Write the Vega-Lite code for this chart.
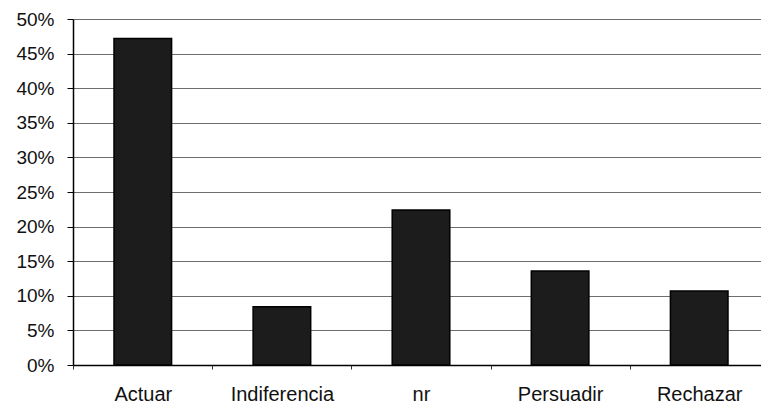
{
  "$schema": "https://vega.github.io/schema/vega-lite/v6.json",
  "width": 688,
  "height": 346,
  "autosize": "none",
  "padding": {"left": 73, "top": 19, "right": 0, "bottom": 39},
  "background": "white",
  "config": {
    "view": {"stroke": null},
    "font": "Liberation Sans"
  },
  "data": {
    "values": [
      {"categoria": "Actuar", "porcentaje": 0.472},
      {"categoria": "Indiferencia", "porcentaje": 0.084},
      {"categoria": "nr", "porcentaje": 0.224},
      {"categoria": "Persuadir", "porcentaje": 0.136},
      {"categoria": "Rechazar", "porcentaje": 0.107}
    ]
  },
  "mark": {"type": "bar", "color": "#1c1c1c", "stroke": "#000000", "strokeWidth": 1.5},
  "encoding": {
    "x": {
      "field": "categoria",
      "type": "nominal",
      "sort": null,
      "scale": {"paddingInner": 0.586, "paddingOuter": 0.266, "align": 0.554},
      "axis": {
        "title": null,
        "labelAngle": 0,
        "labelFontSize": 20,
        "labelColor": "#111111",
        "domainColor": "#000000",
        "domainWidth": 1.5,
        "tickColor": "#333333",
        "tickSize": 4,
        "tickOffset": -69.5,
        "labelOffset": 69.5,
        "labelPadding": 15,
        "grid": false
      }
    },
    "y": {
      "field": "porcentaje",
      "type": "quantitative",
      "scale": {"domain": [0, 0.5], "nice": false},
      "axis": {
        "title": null,
        "format": ".0%",
        "values": [0, 0.05, 0.1, 0.15, 0.2, 0.25, 0.3, 0.35, 0.4, 0.45, 0.5],
        "labelFontSize": 19,
        "labelColor": "#111111",
        "domainColor": "#000000",
        "domainWidth": 1.5,
        "tickColor": "#000000",
        "tickSize": 6,
        "labelPadding": 13,
        "grid": true,
        "gridColor": "#6e6e6e",
        "gridWidth": 1.2,
        "gridOpacity": 1
      }
    }
  }
}
